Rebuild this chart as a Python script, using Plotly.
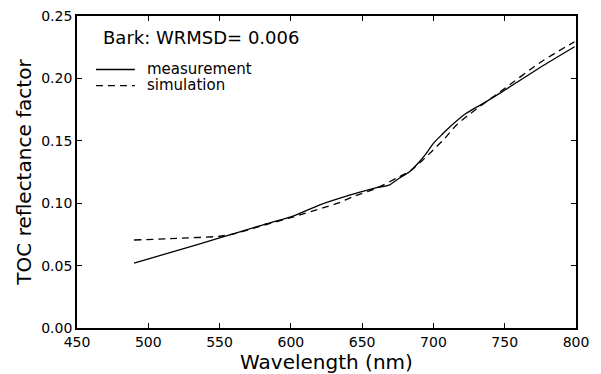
import plotly.graph_objects as go

meas_wl = [490, 520, 550, 580, 600, 620, 643, 660, 669, 676, 683, 690, 695, 700, 706, 712, 723, 735, 747, 777, 799]
meas_val = [0.052, 0.062, 0.0722, 0.0825, 0.089, 0.0985, 0.107, 0.1125, 0.1145, 0.120, 0.125, 0.133, 0.140, 0.148, 0.155, 0.1616, 0.172, 0.180, 0.1884, 0.2103, 0.2254]

sim_wl = [490, 520, 550, 560, 580, 600, 623, 633, 643, 660, 674, 684, 692, 700, 708, 716, 725, 747, 777, 799]
sim_val = [0.0705, 0.0718, 0.0735, 0.0755, 0.082, 0.0885, 0.0965, 0.100, 0.105, 0.112, 0.120, 0.126, 0.134, 0.1428, 0.152, 0.1625, 0.171, 0.1895, 0.2144, 0.2294]

series_names = ["measurement", "simulation"]
x_ticks = [450, 500, 550, 600, 650, 700, 750, 800]
y_ticks = [0.00, 0.05, 0.10, 0.15, 0.20, 0.25]
y_tick_labels = ["0.00", "0.05", "0.10", "0.15", "0.20", "0.25"]
title_text = "Bark: WRMSD= 0.006"

FONT = "DejaVu Sans"
DASH = "7px,5px"
LW = 1.3

fig = go.Figure()
fig.add_trace(go.Scatter(x=meas_wl, y=meas_val, mode="lines", name=series_names[0], showlegend=False,
                         line=dict(color="black", width=LW, shape="spline", smoothing=0.6)))
fig.add_trace(go.Scatter(x=sim_wl, y=sim_val, mode="lines", name=series_names[1], showlegend=False,
                         line=dict(color="black", width=LW, dash=DASH, shape="spline", smoothing=0.6)))

fig.add_annotation(text=title_text, xref="paper", yref="paper", x=0.049, y=0.932,
                   xanchor="left", yanchor="middle", showarrow=False,
                   font=dict(family=FONT, size=18, color="black"))

# manual legend (matches matplotlib's compact legend)
leg_rows = [(0.8285, None), (0.7770, DASH)]
for name, (ly, dash) in zip(series_names, leg_rows):
    fig.add_shape(type="line", xref="paper", yref="paper", x0=0.038, x1=0.116, y0=ly, y1=ly,
                  line=dict(color="black", width=LW, dash=dash if dash else "solid"))
    fig.add_annotation(text=name, xref="paper", yref="paper", x=0.137, y=ly + 0.003,
                       xanchor="left", yanchor="middle", showarrow=False,
                       font=dict(family=FONT, size=15, color="black"))

axis_common = dict(showgrid=False, zeroline=False, showline=True, linecolor="black", linewidth=1.8,
                   mirror="allticks", ticks="inside", ticklen=5, tickwidth=1, tickcolor="black",
                   automargin=False, ticklabeloverflow="allow",
                   tickfont=dict(family=FONT, size=14, color="black"))

# the page body adds an 8px offset, so the figure is sized to fill the rest of the window
fig.update_layout(
    width=593, height=366,
    margin=dict(l=69, r=25, t=8, b=46),
    paper_bgcolor="white", plot_bgcolor="white",
    font=dict(family=FONT, color="black"),
    showlegend=False,
    xaxis=dict(range=[450, 800], tickvals=x_ticks, ticktext=[str(v) for v in x_ticks],
               title=dict(text="Wavelength (nm)", font=dict(family=FONT, size=20), standoff=4),
               **axis_common),
    yaxis=dict(range=[0, 0.25], tickvals=y_ticks, ticktext=y_tick_labels,
               title=dict(text="TOC reflectance factor", font=dict(family=FONT, size=20), standoff=4),
               **axis_common),
)

fig.write_html("out.html")
